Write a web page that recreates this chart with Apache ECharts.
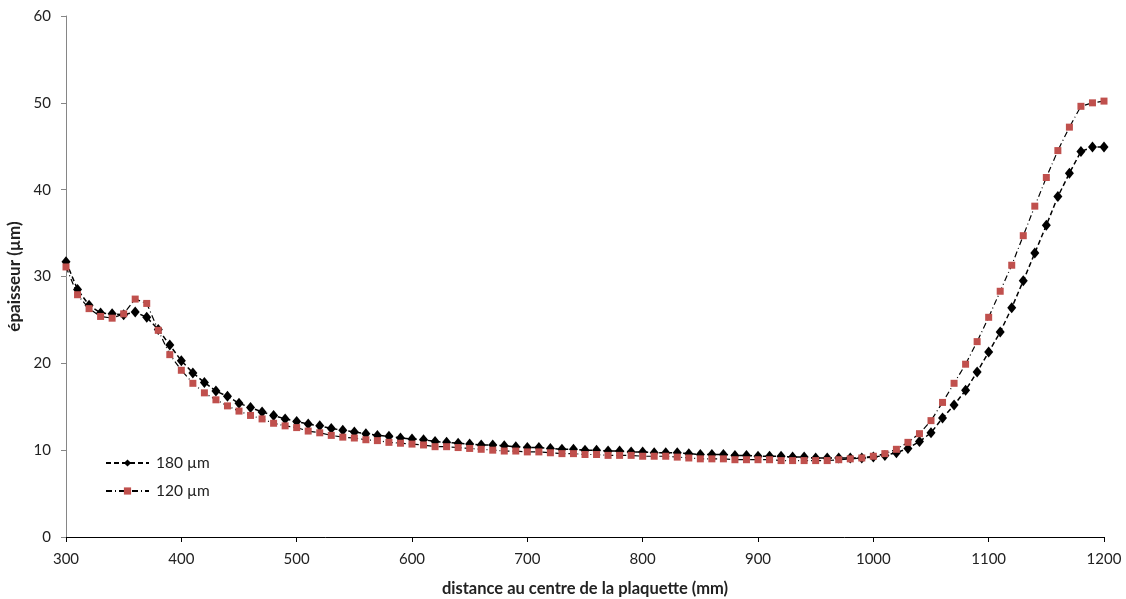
<!DOCTYPE html>
<html>
<head>
<meta charset="utf-8">
<script src="https://cdn.jsdelivr.net/npm/echarts@6/dist/echarts.min.js"></script>
<style>
html,body{margin:0;padding:0;background:#fff;}
#chart{width:1126px;height:599px;}
</style>
</head>
<body>
<div id="chart"></div>
<script>
var distances = [300,310,320,330,340,350,360,370,380,390,400,410,420,430,440,450,460,470,480,490,500,510,520,530,540,550,560,570,580,590,600,610,620,630,640,650,660,670,680,690,700,710,720,730,740,750,760,770,780,790,800,810,820,830,840,850,860,870,880,890,900,910,920,930,940,950,960,970,980,990,1000,1010,1020,1030,1040,1050,1060,1070,1080,1090,1100,1110,1120,1130,1140,1150,1160,1170,1180,1190,1200];

var thickness180 = [31.7,28.5,26.7,25.8,25.7,25.6,25.9,25.3,23.9,22.1,20.3,18.9,17.8,16.8,16.2,15.4,14.9,14.4,14.0,13.6,13.3,13.0,12.8,12.5,12.3,12.1,11.9,11.7,11.6,11.4,11.3,11.2,11.0,10.9,10.8,10.7,10.6,10.6,10.5,10.4,10.3,10.3,10.2,10.1,10.1,10.0,10.0,9.9,9.9,9.8,9.8,9.7,9.7,9.7,9.6,9.5,9.5,9.5,9.4,9.4,9.3,9.3,9.3,9.2,9.2,9.1,9.1,9.1,9.1,9.1,9.2,9.4,9.7,10.2,11.0,12.0,13.7,15.2,16.9,19.0,21.3,23.6,26.4,29.5,32.7,35.9,39.2,41.9,44.4,44.9,44.9];

var thickness120 = [31.1,27.9,26.3,25.4,25.2,25.7,27.4,26.9,23.8,21.0,19.2,17.7,16.6,15.8,15.1,14.5,14.0,13.6,13.1,12.8,12.6,12.2,12.0,11.7,11.5,11.4,11.2,11.1,10.9,10.8,10.7,10.6,10.4,10.4,10.3,10.2,10.1,10.0,9.9,9.9,9.8,9.8,9.7,9.6,9.6,9.5,9.5,9.4,9.4,9.4,9.3,9.3,9.3,9.2,9.1,9.0,9.0,9.0,8.9,8.9,8.9,8.9,8.8,8.8,8.8,8.8,8.8,8.9,9.0,9.1,9.3,9.6,10.1,10.9,11.9,13.4,15.5,17.7,19.9,22.5,25.3,28.3,31.3,34.7,38.1,41.4,44.5,47.2,49.6,50.0,50.2];

var seriesNames = ['180 µm','120 µm'];
var xTitle = 'distance au centre de la plaquette (mm)';
var yTitle = 'épaisseur (µm)';

function pairs(xs, ys){ return xs.map(function(x,i){ return [x, ys[i]]; }); }

var FONT = 'Lato';
var chart = echarts.init(document.getElementById('chart'), null, {renderer:'canvas'});
chart.setOption({
  animation:false,
  backgroundColor:'#fff',
  textStyle:{fontFamily:FONT},
  grid:{left:66, right:22, top:16, bottom:62, containLabel:false, outerBoundsMode:'none'},
  legend:{
    orient:'vertical', left:100, top:450, itemWidth:43, itemHeight:9, itemGap:12,
    textStyle:{fontFamily:FONT, fontSize:15.5, color:'#222', padding:[0,0,0,2]},
    data:seriesNames
  },
  xAxis:{
    type:'value', min:300, max:1200, interval:100,
    name:xTitle, nameLocation:'middle', nameGap:43,
    nameTextStyle:{fontFamily:FONT, fontSize:16.5, fontWeight:'bold', color:'#222'},
    axisLine:{onZero:false, lineStyle:{color:'#000', width:1}},
    axisTick:{show:true, length:5, lineStyle:{color:'#000'}},
    axisLabel:{fontFamily:FONT, fontSize:15, color:'#222', margin:15, formatter:function(v){return String(v);}},
    splitLine:{show:false}
  },
  yAxis:{
    type:'value', min:0, max:60, interval:10,
    name:yTitle, nameLocation:'middle', nameGap:41,
    nameTextStyle:{fontFamily:FONT, fontSize:17, fontWeight:'bold', color:'#222'},
    axisLine:{show:true, lineStyle:{color:'#868686', width:1}},
    axisTick:{show:true, length:5, lineStyle:{color:'#868686'}},
    axisLabel:{fontFamily:FONT, fontSize:15, color:'#222', margin:15},
    splitLine:{show:false}
  },
  series:[
    {
      name:seriesNames[0], type:'line', data:pairs(distances, thickness180),
      symbol:'diamond', symbolSize:[9,11], showSymbol:true,
      itemStyle:{color:'#000'},
      lineStyle:{color:'#000', width:1.5, type:[5,3]},
      z:2
    },
    {
      name:seriesNames[1], type:'line', data:pairs(distances, thickness120),
      symbol:'rect', symbolSize:7, showSymbol:true,
      itemStyle:{color:'#C0504D'},
      lineStyle:{color:'#000', width:1.2, type:[6,3,1,3]},
      z:3
    }
  ]
});
</script>
</body>
</html>
